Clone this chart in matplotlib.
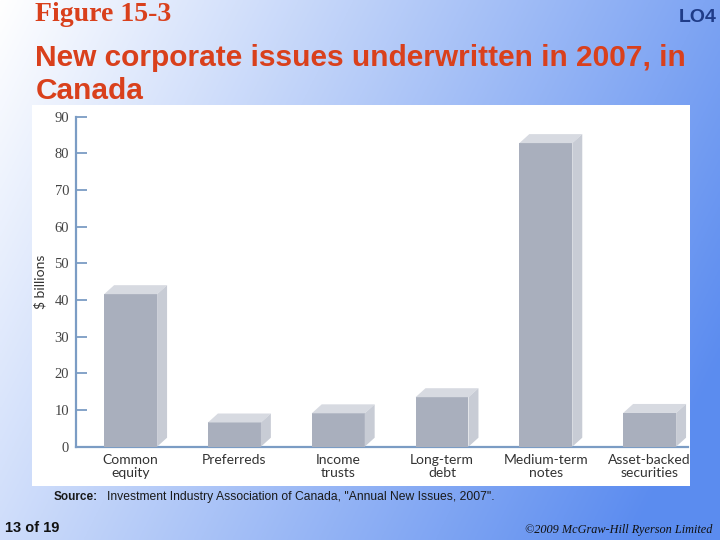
import numpy as np
import matplotlib.pyplot as plt
from matplotlib.patches import Rectangle, Polygon

# data
categories = ["Common\nequity", "Preferreds", "Income\ntrusts", "Long-term\ndebt",
              "Medium-term\nnotes", "Asset-backed\nsecurities"]
values = [41.6, 6.6, 9.1, 13.5, 82.8, 9.2]
yticks = [0, 10, 20, 30, 40, 50, 60, 70, 80, 90]

front_col = "#A9AFBD"
side_col = "#C8CCD5"
top_col = "#D7DAE1"
axis_col = "#7B9CC4"

fig = plt.figure(figsize=(7.2, 5.4), dpi=100)

# slide background gradient
bg = fig.add_axes([0, 0, 1, 1], zorder=-10)
gx, gy = np.meshgrid(np.linspace(0, 1, 300), np.linspace(0, 1, 300))
t = np.clip(0.8 * gx + 0.3 * gy, 0, 1)
c0 = np.array([1.0, 1.0, 1.0])
c1 = np.array([0.36, 0.55, 0.94])
img = c0 + (c1 - c0) * t[..., None]
bg.imshow(img, extent=[0, 1, 0, 1], origin="upper", aspect="auto")
bg.set_xlim(0, 1)
bg.set_ylim(0, 1)
bg.axis("off")

# white chart panel
fig.patches.append(Rectangle((0.0444, 0.10), 0.914, 0.706, transform=fig.transFigure,
                             facecolor="white", edgecolor="none", zorder=-5))

ax = fig.add_axes([0.1056, 0.1728, 0.85, 0.6111])
ax.patch.set_visible(False)

x = np.arange(len(categories))
w = 0.51
dx, dy = 0.096, 2.45
ax.bar(x, values, width=w, color=front_col, zorder=3)
for xi, h in zip(x, values):
    x0, x1 = xi - w / 2, xi + w / 2
    ax.add_patch(Polygon([(x0, h), (x0 + dx, h + dy), (x1 + dx, h + dy), (x1, h)],
                         closed=True, facecolor=top_col, edgecolor="none", zorder=3))
    ax.add_patch(Polygon([(x1, 0), (x1 + dx, dy), (x1 + dx, h + dy), (x1, h)],
                         closed=True, facecolor=side_col, edgecolor="none", zorder=3))

ax.set_xlim(-0.526, 5.37)
ax.set_ylim(0, 90)
ax.set_yticks(yticks)
ax.set_yticklabels([str(v) for v in yticks], fontfamily="Liberation Serif",
                   fontsize=10.5, color="#444444")
ax.tick_params(axis="y", direction="in", length=8, width=1.3, color=axis_col, pad=5)
ax.set_xticks(x)
ax.set_xticklabels(categories, fontfamily="Lato", fontsize=10, color="#333333",
                   linespacing=1.1)
ax.tick_params(axis="x", length=0, pad=5)
for s in ["top", "right"]:
    ax.spines[s].set_visible(False)
for s in ["left", "bottom"]:
    ax.spines[s].set_color(axis_col)
    ax.spines[s].set_linewidth(1.6)
ax.set_ylabel("$ billions", fontfamily="Lato", fontsize=10, color="#333333", labelpad=6)

# slide texts
fig.text(0.049, 0.997, "Figure 15-3", fontfamily="Liberation Serif", fontweight="bold",
         fontsize=20, color="#D9401C", va="top", ha="left")
fig.text(0.995, 0.968, "LO4", fontfamily="Liberation Sans", fontweight="bold",
         fontsize=14, color="#1F3C88", va="center", ha="right")
fig.text(0.049, 0.862, "New corporate issues underwritten in 2007, in\nCanada",
         fontfamily="Liberation Sans", fontweight="bold", fontsize=21.5, color="#D9401C",
         va="center", ha="left", linespacing=1.24)
fig.text(0.075, 0.080, "Source:", fontfamily="Liberation Sans", fontweight="bold",
         fontsize=8.5, color="#1a1a1a", va="center", ha="left")
fig.text(0.149, 0.080, 'Investment Industry Association of Canada, "Annual New Issues, 2007".',
         fontfamily="Liberation Sans", fontsize=8.7, color="#1a1a1a", va="center", ha="left")
fig.text(0.007, 0.022, "13 of 19", fontfamily="Liberation Sans", fontweight="bold",
         fontsize=10.5, color="#111111", va="center", ha="left")
fig.text(0.99, 0.018, "\u00a92009 McGraw-Hill Ryerson Limited", fontfamily="Liberation Serif",
         style="italic", fontsize=8.8, color="#111111", va="center", ha="right")

fig.savefig("out.png", dpi=100)
